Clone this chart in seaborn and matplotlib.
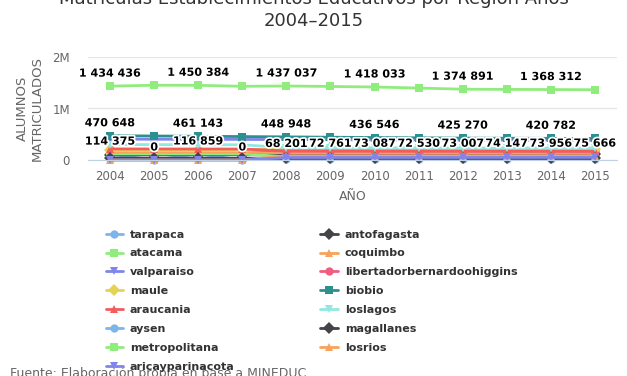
import pandas as pd
import numpy as np
import matplotlib.pyplot as plt
import matplotlib.patheffects as pe
from matplotlib.lines import Line2D
import seaborn as sns


# Data (alumnos matriculados per region)
years = [2004, 2005, 2006, 2007, 2008, 2009, 2010, 2011, 2012, 2013, 2014, 2015]

tarapaca = [114375, 0, 116859, 0, 68201, 72761, 73087, 72530, 73007, 74147, 73956, 75666]
antofagasta = [98000, 99500, 100800, 101500, 103200, 104900, 106300, 107800, 109100, 111200, 113000, 114600]
atacama = [118000, 117500, 117000, 116200, 64500, 64900, 65200, 65800, 66200, 66900, 67500, 68100]
coquimbo = [150200, 151400, 152300, 152900, 139800, 140500, 141200, 141900, 142300, 143100, 143800, 144500]
valparaiso = [405000, 403200, 401800, 399500, 396000, 393800, 391200, 389500, 388100, 386900, 385200, 384100]
libertador = [205000, 204300, 203800, 202900, 172000, 171200, 170500, 169800, 169200, 168600, 168000, 167500]
maule = [185000, 184200, 183500, 182700, 225000, 224100, 223300, 222500, 221800, 221200, 220700, 220100]
biobio = [470648, 466000, 461143, 455000, 448948, 442500, 436546, 430800, 425270, 422900, 420782, 418500]
araucania = [215000, 214200, 213100, 212400, 178000, 177300, 176500, 175900, 175100, 174600, 174000, 173500]
loslagos = [300000, 298500, 296800, 295100, 240500, 239200, 237800, 236500, 235100, 234000, 232800, 231900]
aysen = [20500, 20700, 20900, 21100, 21300, 21500, 21700, 21900, 22100, 22300, 22400, 22600]
magallanes = [33500, 33200, 32900, 32600, 32400, 32100, 31900, 31700, 31500, 31300, 31200, 31000]
metropolitana = [1434436, 1452000, 1450384, 1431000, 1437037, 1428000, 1418033, 1397000, 1374891, 1371000, 1368312, 1364000]
losrios = [0, 0, 0, 0, 82000, 82500, 83100, 83600, 84000, 84500, 85100, 85600]
aricayparinacota = [0, 0, 0, 0, 48000, 48300, 48700, 49100, 49500, 49800, 50200, 50600]

series = {
    'tarapaca': tarapaca, 'antofagasta': antofagasta, 'atacama': atacama,
    'coquimbo': coquimbo, 'valparaiso': valparaiso,
    'libertadorbernardoohiggins': libertador, 'maule': maule, 'biobio': biobio,
    'araucania': araucania, 'loslagos': loslagos, 'aysen': aysen,
    'magallanes': magallanes, 'metropolitana': metropolitana,
    'losrios': losrios, 'aricayparinacota': aricayparinacota,
}
regions = list(series.keys())

# highcharts default colours / marker symbols, cycled
hc_colors = ['#7cb5ec', '#434348', '#90ed7d', '#f7a35c', '#8085e9',
             '#f15c80', '#e4d354', '#2b908f', '#f45b5b', '#91e8e1']
hc_markers = ['o', 'D', 's', '^', 'v']
palette = {r: hc_colors[i % 10] for i, r in enumerate(regions)}
markers = {r: hc_markers[i % 5] for i, r in enumerate(regions)}

df = pd.DataFrame([(r, y, v) for r in regions for y, v in zip(years, series[r])],
                  columns=['region', 'year', 'value'])

sns.set_style('white')
plt.rcParams['font.family'] = ['DejaVu Sans']

fig = plt.figure(figsize=(6.27, 3.76), dpi=100)
ax = fig.add_axes([88 / 627, 1 - 160 / 376, 529 / 627, 103 / 376])

sns.lineplot(data=df, x='year', y='value', hue='region', style='region',
             hue_order=regions, style_order=regions, palette=palette,
             markers=markers, dashes=False, linewidth=2, markersize=6,
             markeredgewidth=0, legend=False, sort=False, ax=ax)
for ln in ax.lines:
    ln.set_clip_on(False)


def fmt(v):
    return f'{v:,}'.replace(',', ' ')


# data labels that highcharts kept visible
stroke = [pe.withStroke(linewidth=2.5, foreground='white')]
label_sets = [(metropolitana, range(0, 12, 2)), (biobio, range(0, 12, 2)),
              (tarapaca, range(12))]
for vals, idx in label_sets:
    for i in idx:
        ax.annotate(fmt(vals[i]), (years[i], vals[i]), xytext=(0, 9),
                    textcoords='offset points', ha='center', va='center',
                    fontsize=8, fontweight='bold', color='#000000',
                    path_effects=stroke, annotation_clip=False, zorder=10)

ax.set_xlim(2003.5, 2015.5)
ax.set_ylim(0, 2000000)
ax.set_xticks(years)
ax.set_xticklabels([str(y) for y in years])
ax.set_yticks([0, 1000000, 2000000])
ax.set_yticklabels(['0', '1M', '2M'])
ax.tick_params(axis='both', colors='#666666', labelsize=8.5, length=0)
ax.tick_params(axis='x', pad=7)
ax.tick_params(axis='y', pad=13)
ax.grid(axis='y', color='#e6e6e6', linewidth=1)
ax.set_axisbelow(True)
for side in ['top', 'right', 'left']:
    ax.spines[side].set_visible(False)
ax.spines['bottom'].set_color('#c0d0e0')
ax.set_xlabel('AÑO', color='#666666', fontsize=9, labelpad=5)
ax.set_ylabel('ALUMNOS\nMATRICULADOS', color='#666666', fontsize=9.5, labelpad=6)

fig.text(0.5, 1 - 10 / 376, 'Matrículas Establecimientos Educativos por Región Años\n2004–2015',
         ha='center', va='center', fontsize=13, color='#333333', linespacing=1.25)

# legend, row-major like highcharts -> reorder for matplotlib's column-major fill
order = regions[0::2] + regions[1::2]
handles = [Line2D([0], [0], color=palette[r], marker=markers[r], lw=2,
                  markersize=6, markeredgewidth=0) for r in order]
fig.legend(handles, order, ncol=2, loc='upper left',
           bbox_to_anchor=(100 / 627, 1 - 224 / 376), frameon=False,
           prop={'weight': 'bold', 'size': 8}, labelcolor='#333333',
           handlelength=1.6, handletextpad=0.6, labelspacing=0.8,
           columnspacing=7.7, borderpad=0)

fig.text(10 / 627, 1 - 373 / 376, 'Fuente: Elaboración propia en base a MINEDUC',
         ha='left', va='center', fontsize=9, color='#666666')

fig.savefig('out.png', dpi=100)
